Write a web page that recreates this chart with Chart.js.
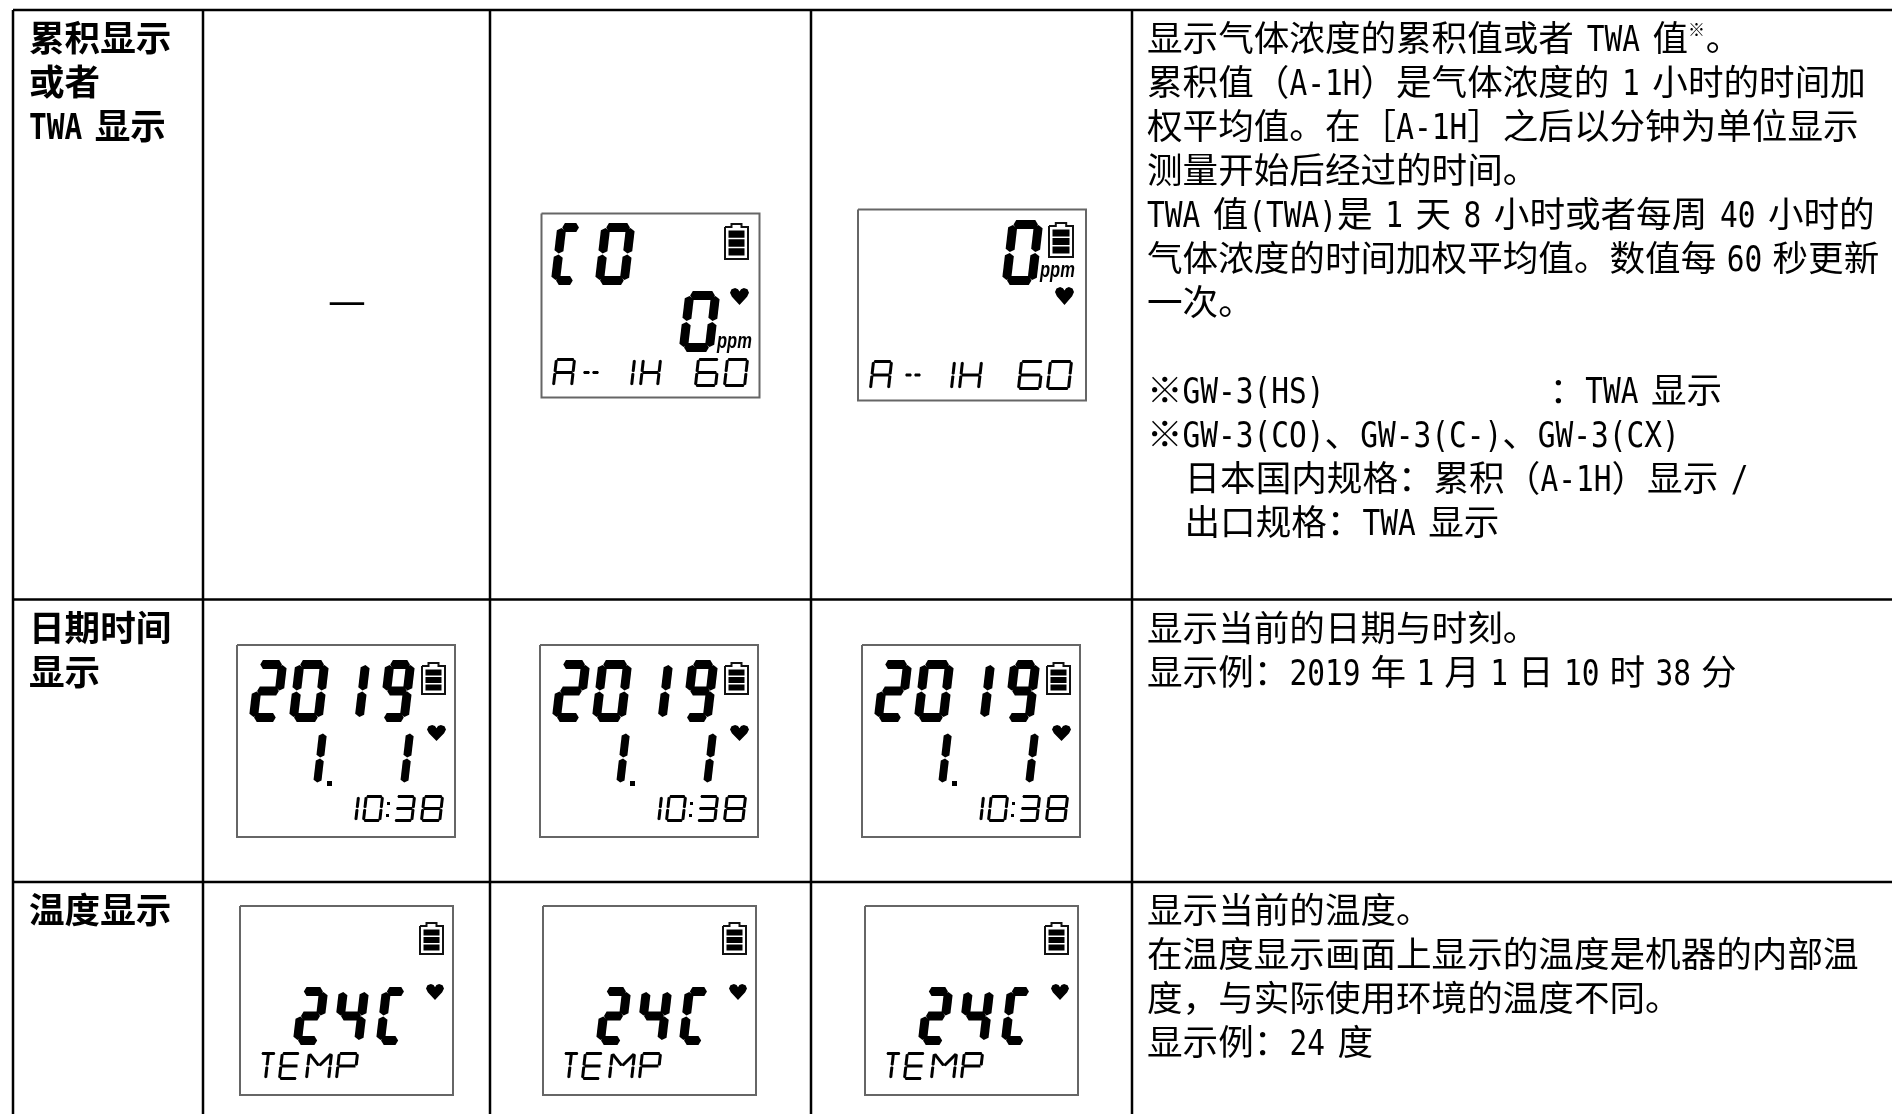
<!DOCTYPE html>
<html lang="zh">
<head>
<meta charset="utf-8">
<title>累积显示 / 日期时间显示 / 温度显示</title>
<script src="https://cdn.jsdelivr.net/npm/chart.js@4/dist/chart.umd.min.js"></script>
<style>
  html, body { margin: 0; background: #fff; }
  canvas { display: block; }
</style>
</head>
<body>
<canvas id="chart" width="1892" height="1114"></canvas>
<script>
// table text, \u2009 marks the tighter gaps of the original
const rowLabels = [
  ['累积显示', '或者', 'TWA 显示'],
  ['日期时间', '显示'],
  ['温度显示']
];
const emptyCellText = '—';
const rowNotes = [
  [
    '显示气体浓度的累积值或者 TWA 值^※。',
    '累积值（A-1H）是气体浓度的 1 小时的时间加',
    '权平均值。在［A-1H］之后以分钟为单位显示',
    '测量开始后经过的时间。',
    'TWA 值(TWA)是 1 天 8 小时或者每周 40 小时的',
    '气体浓度的时间加权平均值。数值每\u200960\u2009秒更新',
    '一次。',
    '',
    '※GW-3(HS)                  ：TWA 显示',
    '※GW-3(CO)、GW-3(C-)、GW-3(CX)',
    '   日本国内规格：累积（A-1H）显示 /',
    '   出口规格：TWA 显示'
  ],
  ['显示当前的日期与时刻。', '显示例：2019\u2009年\u20091\u2009月\u20091\u2009日\u200910\u2009时\u200938\u2009分'],
  ['显示当前的温度。', '在温度显示画面上显示的温度是机器的内部温', '度，与实际使用环境的温度不同。', '显示例：24 度']
];

// what the LCD screens read
const readoutGasName = ['C', 'O'];
const readoutGasValue = ['0'];
const readoutAverage = ['A', '-', '-', '1', 'H', '6', '0'];
const readoutYear = ['2', '0', '1', '9'];
const readoutDay = ['1', '1'];
const readoutClock = ['1', '0', '3', '8'];
const readoutTemp = ['2', '4', 'C'];
const readoutTempName = ['T', 'E', 'M', 'P'];
const unitText = 'ppm';

// table grid, in page pixels
const columnLines = [13, 203, 490, 811, 1132];
const rowLines = [10, 599.5, 882];

// which segments light up for each LCD character
const segmentsOf = {
  '0': 'abcdef', 'O': 'abcdef', '1': 'bc', '2': 'abged', '3': 'abgcd', '4': 'fgbc',
  '6': 'afgedc', '8': 'abcdefg', '9': 'abcdfg', 'C': 'adef', 'A': 'abcefg', 'H': 'bcefg',
  'E': 'adefg', 'P': 'abefg', 'T': 'ahi', 'M': 'bcefxy', '-': 'g'
};
const segmentEnds = {
  a: [0, 0, 1, 0], b: [1, 0, 1, .5], c: [1, .5, 1, 1], d: [0, 1, 1, 1], e: [0, .5, 0, 1], f: [0, 0, 0, .5],
  g: [0, .5, 1, .5], h: [.5, 0, .5, .5], i: [.5, .5, .5, 1], x: [0, 0, .5, .5], y: [1, 0, .5, .5]
};
const heartOutline = [[.5, 1], [.1, .52], [0, .28], [.08, .08], [.27, 0], [.42, .07], [.5, .2], [.58, .07], [.73, 0], [.92, .08], [1, .28], [.9, .52]];

const dateOffsets = [0, 303, 625];
const tempOffsets = [0, 303, 625];

const EM = 35.6, HALF = 17.75, SPACE = 12.5, THIN = 10.2, PITCH = 44;
const CJK_FONT = '"Noto Sans CJK SC", sans-serif';
const LATIN_FONT = '"DejaVu Sans Mono", monospace';
const LATIN_SIZE = 35;

const fills = [];
const strokes = [];

function addSegment(x1, y1, x2, y2, sw, gap) {
  const len = Math.hypot(x2 - x1, y2 - y1);
  const dx = (x2 - x1) / len, dy = (y2 - y1) / len;
  const nx = -dy * sw / 2, ny = dx * sw / 2;
  const t = sw * .3;
  fills.push([
    { x: x1 + dx * gap, y: y1 + dy * gap },
    { x: x1 + dx * (gap + t) + nx, y: y1 + dy * (gap + t) + ny },
    { x: x2 - dx * (gap + t) + nx, y: y2 - dy * (gap + t) + ny },
    { x: x2 - dx * gap, y: y2 - dy * gap },
    { x: x2 - dx * (gap + t) - nx, y: y2 - dy * (gap + t) - ny },
    { x: x1 + dx * (gap + t) - nx, y: y1 + dy * (gap + t) - ny }
  ]);
}

function addGlyph(ch, x, y, w, h, sw) {
  const slant = h * .1;
  const bodyW = w - slant - sw, bodyH = h - sw;
  const gap = sw * .06;
  for (const s of segmentsOf[ch]) {
    const e = segmentEnds[s];
    const px = (u, v) => x + sw / 2 + u * bodyW + (1 - v) * slant;
    const py = v => y + sw / 2 + v * bodyH;
    addSegment(px(e[0], e[1]), py(e[1]), px(e[2], e[3]), py(e[3]), sw, gap);
  }
}

function addRun(chars, lefts, widths, y, h, sw, ox, oy) {
  chars.forEach((ch, i) => addGlyph(ch, lefts[i] + ox, y + oy, widths[i], h, sw));
}

function addBlock(x, y, w, h) {
  fills.push([{ x, y }, { x: x + w, y }, { x: x + w, y: y + h }, { x, y: y + h }]);
}

function addBattery(x, y, w, h) {
  strokes.push({ color: '#111', width: 2, points: [
    { x: x + 1, y: y + 4 }, { x: x + w * .3, y: y + 4 }, { x: x + w * .3, y: y + 1 }, { x: x + w * .7, y: y + 1 }, { x: x + w * .7, y: y + 4 },
    { x: x + w - 1, y: y + 4 }, { x: x + w - 1, y: y + h - 1 }, { x: x + 1, y: y + h - 1 }, { x: x + 1, y: y + 4 }
  ] });
  const barH = (h - 15) / 3;
  for (let i = 0; i < 3; i++) addBlock(x + 4.5, y + 7.5 + i * (barH + 1.5), w - 9, barH);
}

function addHeart(x, y, w, h) {
  fills.push(heartOutline.map(p => ({ x: x + p[0] * w, y: y + p[1] * h })));
}

function addBox(x, y, w, h) {
  strokes.push({ color: '#666', width: 2, points: [{ x, y }, { x: x + w, y }, { x: x + w, y: y + h }, { x, y: y + h }, { x, y }] });
}

// table grid
columnLines.forEach(x => strokes.push({ color: '#000', width: 2.5, points: [{ x, y: rowLines[0] }, { x, y: 1114 }] }));
rowLines.forEach(y => strokes.push({ color: '#000', width: 2.5, points: [{ x: columnLines[0], y }, { x: 1892, y }] }));

// CO screen, gas name on its own row
addBox(541.5, 213.5, 218, 184);
addRun(readoutGasName, [551, 595], [33, 40], 223, 62, 9, 0, 0);
addRun(readoutGasValue, [679], [41], 291, 61, 9, 0, 0);
addRun(readoutAverage, [552, 580, 589, 628, 639, 694, 723], [24, 13, 13, 8, 23, 26, 26], 358, 29, 3, 0, 0);
addBattery(724, 223, 25, 37);
addHeart(730, 288, 19, 17);

// same reading without the gas name
addBox(858, 209.5, 228, 191);
addRun(readoutGasValue, [1002], [41], 220, 65, 9, 0, 0);
addRun(readoutAverage, [869, 902, 911, 948, 958, 1017, 1046], [24, 13, 13, 8, 25, 27, 27], 360, 30, 3, 0, 0);
addBattery(1048, 222, 26, 36);
addHeart(1055, 287, 19, 18);

// date screens
dateOffsets.forEach(ox => {
  addBox(237 + ox, 645, 218, 192);
  addRun(readoutYear, [249, 289, 355, 379], [38, 40, 15, 36], 660, 62, 9, ox, 0);
  addRun(readoutDay, [312, 399], [15, 15], 729, 58, 8, ox, 0);
  addBlock(327 + ox, 781, 5, 5);
  addRun(readoutClock, [352, 362, 393, 420], [8, 22, 23, 24], 795, 27, 3, ox, 0);
  addBlock(387 + ox, 802, 3, 3);
  addBlock(386 + ox, 814, 3, 3);
  addBattery(421 + ox, 662, 25, 33);
  addHeart(427 + ox, 725, 19, 16);
});

// temperature screens
tempOffsets.forEach(ox => {
  addBox(240 + ox, 906, 213, 189);
  addRun(readoutTemp, [293, 333, 376], [35, 36, 33], 987, 58, 9, ox, 0);
  addRun(readoutTempName, [257, 278, 305, 335], [20, 23, 28, 24], 1052, 28, 3, ox, 0);
  addBattery(419 + ox, 922, 25, 33);
  addHeart(426 + ox, 984, 18, 16);
});

function drawTextLine(ctx, text, x, baseline, weight) {
  const tokens = text.match(/\^.| +|\u2009|[\x21-\x7e]+|[^\x00-\x7e\u2009]+/g) || [];
  let cx = x;
  for (const tok of tokens) {
    if (tok[0] === '^') {
      ctx.font = weight + ' 17px ' + CJK_FONT;
      ctx.fillText(tok[1], cx, baseline - 15);
      cx += HALF;
    } else if (tok[0] === ' ') {
      cx += SPACE * tok.length;
    } else if (tok === '\u2009') {
      cx += THIN;
    } else if (tok.charCodeAt(0) < 127) {
      ctx.save();
      ctx.translate(cx, baseline);
      ctx.scale(HALF / (LATIN_SIZE * .602), 1);
      ctx.font = weight + ' ' + LATIN_SIZE + 'px ' + LATIN_FONT;
      ctx.fillText(tok, 0, 0);
      ctx.restore();
      cx += HALF * tok.length;
    } else {
      ctx.font = weight + ' ' + EM + 'px ' + CJK_FONT;
      ctx.fillText(tok, cx, baseline);
      cx += EM * tok.length;
    }
  }
}

function drawUnit(ctx, x, y) {
  ctx.save();
  ctx.translate(x, y);
  ctx.scale(.75, 1);
  ctx.font = 'italic bold 22px "Liberation Sans", sans-serif';
  ctx.fillText(unitText, 0, 0);
  ctx.restore();
}

const tableText = {
  id: 'tableText',
  afterDatasetsDraw(chart) {
    const { ctx, scales } = chart;
    const px = v => scales.x.getPixelForValue(v);
    const py = v => scales.y.getPixelForValue(v);
    ctx.save();
    ctx.fillStyle = '#000';
    ctx.textAlign = 'left';
    ctx.textBaseline = 'alphabetic';
    rowLabels.forEach((lines, r) => {
      lines.forEach((t, i) => drawTextLine(ctx, t, px(29), py(rowLines[r] + 41 + i * PITCH), 'bold'));
    });
    rowNotes.forEach((lines, r) => {
      lines.forEach((t, i) => drawTextLine(ctx, t, px(1147), py(rowLines[r] + 41 + i * PITCH), 'normal'));
    });
    ctx.textAlign = 'center';
    ctx.font = '43px ' + CJK_FONT;
    ctx.fillText(emptyCellText, px(347), py(316));
    ctx.textAlign = 'left';
    drawUnit(ctx, px(717), py(348));
    drawUnit(ctx, px(1040), py(277));
    ctx.restore();
  }
};

const datasets = [
  ...fills.map(points => ({
    data: points, showLine: true, fill: 'shape', pointRadius: 0, borderWidth: 0, tension: 0,
    backgroundColor: '#000', borderColor: 'transparent'
  })),
  ...strokes.map(s => ({
    data: s.points, showLine: true, fill: false, pointRadius: 0, borderWidth: s.width, tension: 0,
    borderColor: s.color, backgroundColor: 'transparent'
  }))
];

const canvas = document.getElementById('chart');
canvas.setAttribute('aria-label', [readoutGasName.join(''), readoutGasValue.join(''), unitText, readoutAverage.join(''),
  readoutYear.join(''), readoutDay.join('.'), readoutClock.join(''), readoutTemp.join(''), readoutTempName.join('')].join(' '));

new Chart(canvas.getContext('2d'), {
  type: 'scatter',
  data: { datasets },
  plugins: [tableText],
  options: {
    responsive: false,
    animation: false,
    events: [],
    layout: { padding: 0 },
    plugins: { legend: { display: false }, tooltip: { enabled: false } },
    scales: {
      x: { type: 'linear', min: 0, max: 1892, display: false },
      y: { type: 'linear', min: 0, max: 1114, reverse: true, display: false }
    }
  }
});
</script>
</body>
</html>
